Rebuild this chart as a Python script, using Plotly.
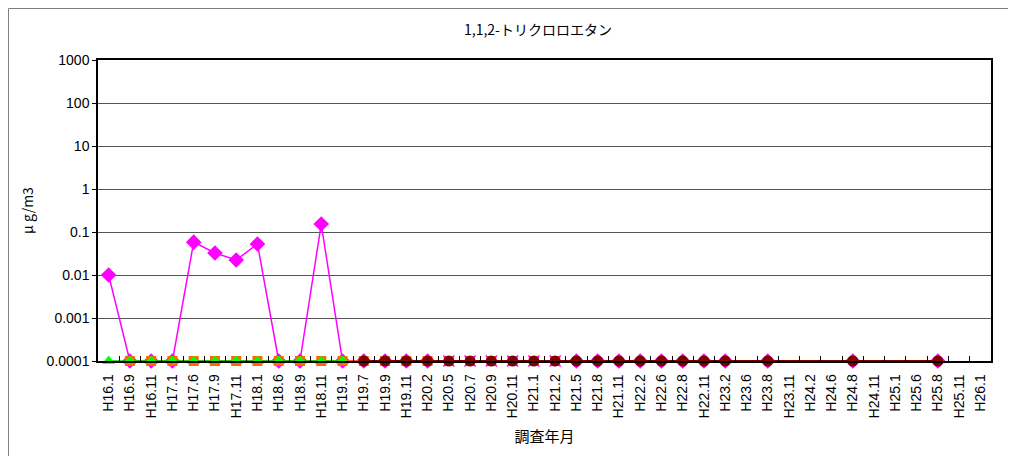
import plotly.graph_objects as go

categories = ["H16.1", "H16.9", "H16.11", "H17.1", "H17.6", "H17.9", "H17.11", "H18.1",
              "H18.6", "H18.9", "H18.11", "H19.1", "H19.7", "H19.9", "H19.11", "H20.2",
              "H20.5", "H20.7", "H20.9", "H20.11", "H21.1", "H21.2", "H21.5", "H21.8",
              "H21.11", "H22.2", "H22.6", "H22.8", "H22.11", "H23.2", "H23.6", "H23.8",
              "H23.11", "H24.2", "H24.6", "H24.8", "H24.11", "H25.1", "H25.6", "H25.8",
              "H25.11", "H26.1"]

N = None
L = 0.0001  # detection-limit level drawn at the bottom of the axis

magenta_vals = [0.01, L, L, L, 0.058, 0.0325, 0.0223, 0.0526, L, L, 0.153, L,
                L, L, L, L, N, N, N, N, N, N, L, L, L, L, L, L, L, L,
                N, L, N, N, N, L, N, N, N, L, N, N]
orange_vals = [N, L, L, L, L, L, L, L, L, L, L, L, L, L, L, L, L, L, L, L, L, L,
               N, N, N, N, N, N, N, N, N, N, N, N, N, N, N, N, N, N, N, N]
green_vals = [L, L, L, L, L, L, L, L, L, L, L, L] + [N] * 30
cross_vals = [N] * 16 + [L, L, L, L, L, L] + [N] * 20
darkred_vals = [N] * 12 + [L] * 18 + [N, L, N, N, N, L, N, N, N, L, N, N]

tickvals = [0.0001, 0.001, 0.01, 0.1, 1, 10, 100, 1000]
ticktext = ["0.0001", "0.001", "0.01", "0.1", "1", "10", "100", "1000"]

# page body has an 8px margin; figure coordinates are offset by it
W, H = 1008, 448
PL, PR, PT, PB = 90, 983, 52, 353  # plot area in figure pixels
LATIN = "Arial, Liberation Sans, sans-serif"
CJK = "Noto Sans CJK JP"

fig = go.Figure()
fig.add_trace(go.Scatter(x=categories, y=magenta_vals, mode="lines+markers", connectgaps=True,
                         cliponaxis=False,
                         line=dict(color="#FF00FF", width=1.5),
                         marker=dict(symbol="diamond", size=12, color="#FF00FF")))
fig.add_trace(go.Scatter(x=categories, y=orange_vals, mode="lines+markers", connectgaps=True,
                         cliponaxis=False,
                         line=dict(color="#FF6600", width=1.5),
                         marker=dict(symbol="square", size=10, color="#FF6600")))
fig.add_trace(go.Scatter(x=categories, y=green_vals, mode="lines+markers", connectgaps=True,
                         cliponaxis=False,
                         line=dict(color="#00CC00", width=1.5),
                         marker=dict(symbol="triangle-up", size=11, color="#00FF00")))
fig.add_trace(go.Scatter(x=categories, y=cross_vals, mode="markers", cliponaxis=False,
                         marker=dict(symbol="x-thin", size=11, color="#FF00FF",
                                     line=dict(color="#FF00FF", width=1.5))))
fig.add_trace(go.Scatter(x=categories, y=darkred_vals, mode="lines+markers", connectgaps=True,
                         cliponaxis=False,
                         line=dict(color="#800000", width=1.8),
                         marker=dict(symbol="circle", size=11, color="#800000")))

pw, ph = PR - PL, PB - PT
fig.add_shape(type="rect", xref="paper", yref="paper",
              x0=(0.5 - PL) / pw, x1=(W + 20 - PL) / pw,
              y0=(PB - (H + 20)) / ph, y1=(PB - 0.5) / ph,
              line=dict(color="#808080", width=1), fillcolor="rgba(0,0,0,0)", layer="below")

fig.update_layout(
    width=W, height=H,
    margin=dict(l=PL, r=W - PR, t=PT, b=H - PB, autoexpand=False),
    paper_bgcolor="white", plot_bgcolor="white",
    showlegend=False,
    title=dict(text="1,1,2-トリクロロエタン", x=(538 - 8) / W,
               xanchor="center", y=1 - (30 - 8) / H, yanchor="middle",
               font=dict(family=CJK, size=14, color="black")),
    font=dict(family=LATIN, size=14, color="black"),
)
fig.update_xaxes(type="category", categoryorder="array", categoryarray=categories,
                 range=[-0.5, len(categories) - 0.5],
                 tickangle=-90, ticks="inside", tickson="boundaries", ticklen=5,
                 ticklabelstandoff=6,
                 tickcolor="black", showline=True, linecolor="black", linewidth=1.5,
                 mirror=True, showgrid=False,
                 tickfont=dict(family=LATIN, size=14),
                 title=dict(text="調査年月", standoff=14,
                            font=dict(family=CJK, size=15)))
fig.update_yaxes(type="log", range=[-4, 3], tickvals=tickvals, ticktext=ticktext,
                 showgrid=True, gridcolor="#555555", gridwidth=1,
                 showline=True, linecolor="black", linewidth=1.5, mirror=True,
                 ticks="outside", ticklen=4, tickcolor="black",
                 tickfont=dict(family=LATIN, size=14),
                 title=dict(text="μ g/m3", standoff=10,
                            font=dict(family=CJK, size=14)))

fig.write_html("out.html")
